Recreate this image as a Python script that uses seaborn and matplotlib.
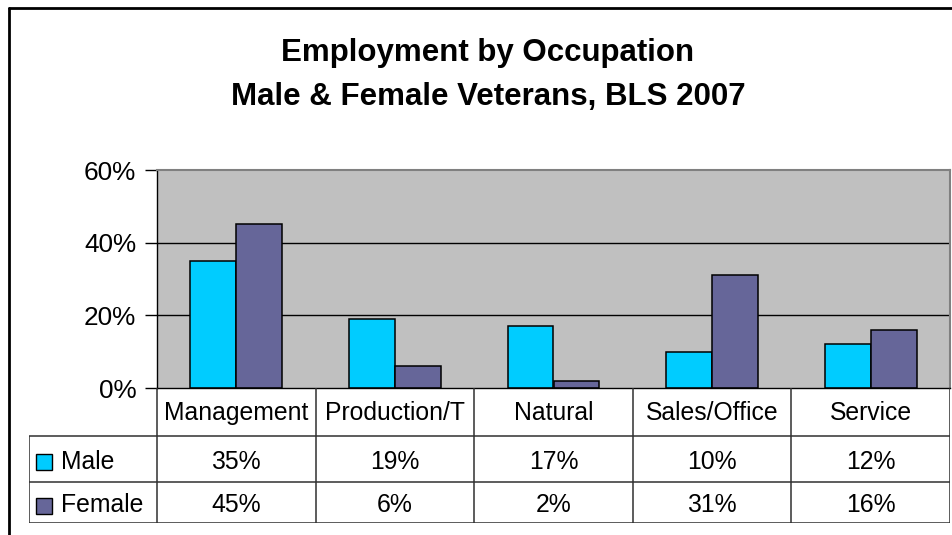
import numpy as np
import pandas as pd
import matplotlib
matplotlib.use("Agg")
import matplotlib.pyplot as plt
from matplotlib.lines import Line2D
from matplotlib.patches import Rectangle
from matplotlib.ticker import PercentFormatter
import seaborn as sns

# --- DANE ---------------------------------------------------------------------

categories = ["Management", "Production/T", "Natural", "Sales/Office", "Service"]
series = ["Male", "Female"]
male = [0.35, 0.19, 0.17, 0.10, 0.12]
female = [0.45, 0.06, 0.02, 0.31, 0.16]
y_ticks = [0.0, 0.2, 0.4, 0.6]

title_lines = ["Employment by Occupation", "Male & Female Veterans, BLS 2007"]

COLORS = {"Male": "#00CCFF", "Female": "#666699"}

df = pd.DataFrame({
    "Occupation": categories * 2,
    "Series": ["Male"] * len(categories) + ["Female"] * len(categories),
    "Value": male + female,
})

# --- UKLAD (piksele figury 953x535) ------------------------------------------

W, H = 953, 535
PLOT_L, PLOT_R, PLOT_T, PLOT_B = 157, 950, 170, 388
TAB_L, TAB_B = 29, 523
ROWS = [0, 48, 94, 135]          # granice wierszy tabeli (px od gory tabeli)
FONT = ["Liberation Sans", "DejaVu Sans"]
FS = 17.8

sns.set_theme(style="white")
plt.rcParams["font.family"] = FONT
plt.rcParams["text.color"] = "black"
plt.rcParams["ytick.color"] = "black"
plt.rcParams["ytick.labelcolor"] = "black"

fig = plt.figure(figsize=(W / 100, H / 100), dpi=100)
fig.patch.set_facecolor("white")

ax = fig.add_axes([PLOT_L / W, (H - PLOT_B) / H,
                   (PLOT_R - PLOT_L) / W, (PLOT_B - PLOT_T) / H])

sns.barplot(data=df, x="Occupation", y="Value", hue="Series",
            hue_order=series, order=categories, palette=COLORS,
            width=0.58, edgecolor="black", linewidth=1.1,
            saturation=1, legend=False, ax=ax)

ax.set_facecolor("#C0C0C0")
ax.set_ylim(0, 0.6)
ax.set_xlim(-0.5, len(categories) - 0.5)
ax.set_yticks(y_ticks)
ax.yaxis.set_major_formatter(PercentFormatter(1.0, decimals=0))
ax.set_xticks([])
ax.set_xlabel("")
ax.set_ylabel("")
for y in y_ticks[1:-1]:
    ax.axhline(y, color="black", linewidth=1, zorder=0.5)
ax.tick_params(axis="y", direction="out", length=9, width=1, color="black",
               labelcolor="black", labelsize=FS + 1, pad=6, left=True)
for s in ["left", "bottom"]:
    ax.spines[s].set_color("black")
    ax.spines[s].set_linewidth(1)
for s in ["top", "right"]:
    ax.spines[s].set_color("#808080")
    ax.spines[s].set_linewidth(1.5)

# --- TABELA DANYCH -----------------------------------------------------------

cat_w = (PLOT_R - PLOT_L) / len(categories)
x_left = -0.5 - (PLOT_L - TAB_L) / cat_w

tab = fig.add_axes([TAB_L / W, (H - TAB_B) / H,
                    (PLOT_R - TAB_L) / W, (TAB_B - PLOT_B) / H])
tab.set_xlim(x_left, len(categories) - 0.5)
tab.set_ylim(ROWS[-1], 0)
tab.axis("off")

line_kw = dict(color="#303030", linewidth=1.1, solid_capstyle="butt")
for r in ROWS[1:]:
    tab.plot([x_left, len(categories) - 0.5], [r, r], **line_kw)
for i in range(len(categories) + 1):
    tab.plot([i - 0.5, i - 0.5], [0, ROWS[-1]], **line_kw)
tab.plot([x_left, x_left], [ROWS[1], ROWS[-1]], **line_kw)

for i, cat in enumerate(categories):
    tab.text(i, (ROWS[0] + ROWS[1]) / 2 + 1, cat, ha="center", va="center",
             fontsize=FS, color="black")
for row, (name, vals) in enumerate(zip(series, [male, female])):
    yc = (ROWS[row + 1] + ROWS[row + 2]) / 2 + 3
    for i, v in enumerate(vals):
        tab.text(i, yc, f"{v:.0%}", ha="center", va="center", fontsize=FS,
                 color="black")
    tab.add_patch(Rectangle((x_left + 7 / cat_w, yc - 8), 16 / cat_w, 16,
                            facecolor=COLORS[name], edgecolor="black",
                            linewidth=1))
    tab.text(x_left + 32 / cat_w, yc, name, ha="left", va="center",
             fontsize=FS, color="black")

# --- TYTUL I RAMKA -----------------------------------------------------------

fig.text(488 / W, 1 - 53 / H, title_lines[0], ha="center", va="center",
         fontsize=22.5, fontweight="bold", color="black")
fig.text(488 / W, 1 - 97 / H, title_lines[1], ha="center", va="center",
         fontsize=22.5, fontweight="bold", color="black")

fig.add_artist(Line2D([9 / W, 9 / W], [0, 1 - 8 / H], color="black",
                      linewidth=2, transform=fig.transFigure))
fig.add_artist(Line2D([9 / W, 1], [1 - 8 / H, 1 - 8 / H], color="black",
                      linewidth=2, transform=fig.transFigure))

fig.savefig("out.png", dpi=100, facecolor="white")
